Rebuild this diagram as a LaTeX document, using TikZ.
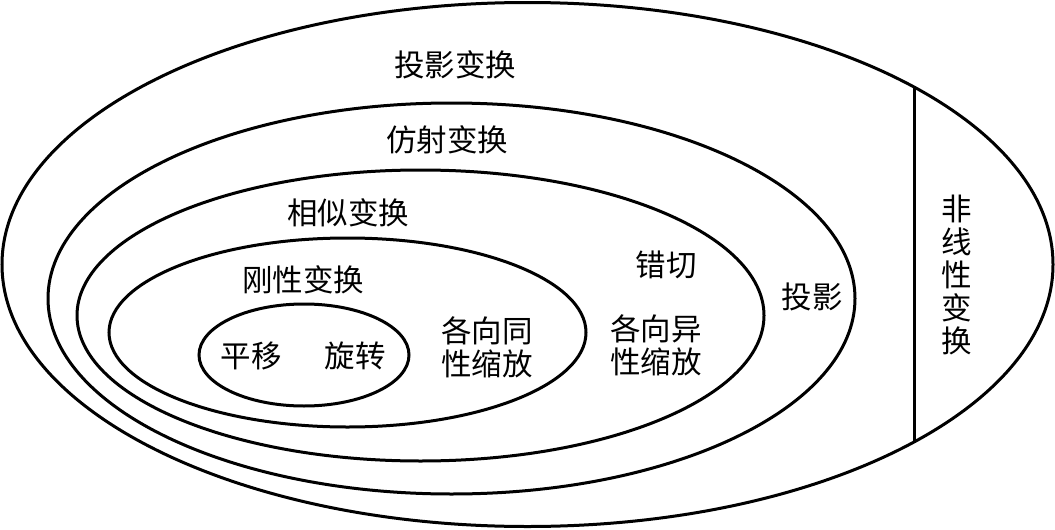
\documentclass[tikz,border=0pt]{standalone}
\usepackage{fontspec}
\newfontfamily\cjk{Noto Sans CJK SC}
\usetikzlibrary{shapes.geometric}
\begin{document}
\begin{tikzpicture}[x=1pt,y=-1pt,
  ring/.style={draw, ellipse, line width=3pt, inner sep=0pt},
  lbl/.style={font=\cjk\fontsize{30.5}{33}\selectfont, align=center, inner sep=0pt}]
\useasboundingbox (0,0) rectangle (1055,530);
\fill[white] (0,0) rectangle (1055,530);
% ellipses
\node[ring, minimum width=1051pt, minimum height=524pt] (proj) at (527.5,264.5) {};
\node[ring, minimum width=807pt, minimum height=391pt] (aff) at (451.5,298.5) {};
\node[ring, minimum width=687pt, minimum height=291pt] (sim) at (420.5,315.5) {};
\node[ring, minimum width=477pt, minimum height=189pt] (rig) at (347.5,332.5) {};
\node[ring, minimum width=210pt, minimum height=102pt] (tr) at (304,355) {};
% divider of the non-linear region
\coordinate (dtop) at (914,87);
\coordinate (dbot) at (914,442);
\draw[line width=3pt] (dtop) -- (dbot);
% labels
\node[lbl] (l1) at (455,65) {投影变换};
\node[lbl] (l2) at (447,140) {仿射变换};
\node[lbl] (l3) at (348,213) {相似变换};
\node[lbl] (l4) at (303,280) {刚性变换};
\node[lbl] (l5) at (251,356) {平移};
\node[lbl] (l6) at (355,356) {旋转};
\node[lbl] (l7) at (487,347) {各向同\\性缩放};
\node[lbl] (l8) at (666,265) {错切};
\node[lbl] (l9) at (656,345) {各向异\\性缩放};
\node[lbl] (l10) at (812,297) {投影};
\node[lbl] (l11) at (957,275) {非\\线\\性\\变\\换};
\end{tikzpicture}
\end{document}
